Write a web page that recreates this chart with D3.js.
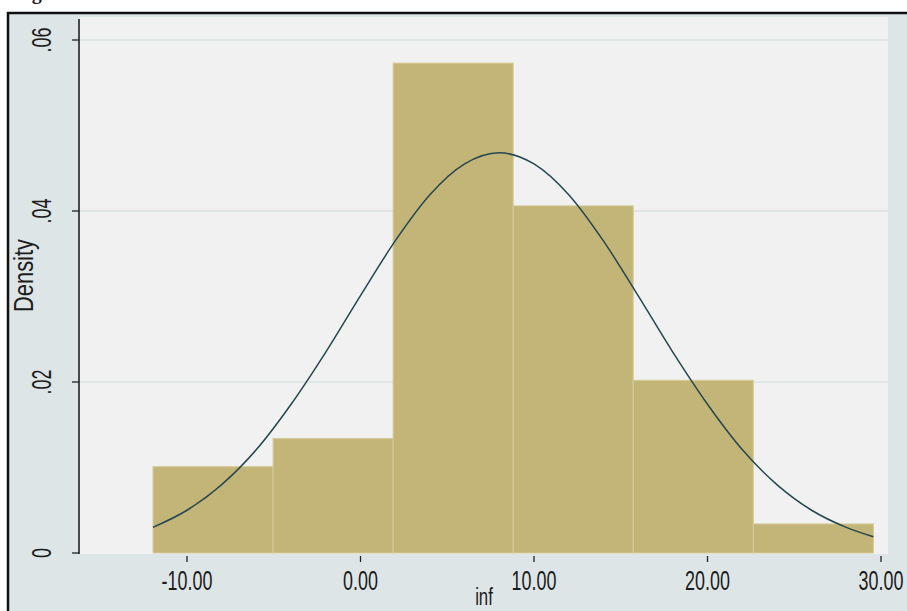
<!DOCTYPE html>
<html>
<head>
<meta charset="utf-8">
<script src="https://cdn.jsdelivr.net/npm/d3@7"></script>
<style>
  html, body { margin: 0; padding: 0; background: #ffffff; }
  svg { display: block; }
  text { font-family: "Liberation Sans", Arial, sans-serif; fill: #1c1c1c; }
</style>
</head>
<body>
<svg id="chart" width="907" height="611"></svg>
<script>
// ---- data ----
const binEdges = [-11.96, -5.04, 1.88, 8.80, 15.72, 22.64, 29.56];
const densities = [0.0101, 0.0134, 0.0573, 0.0406, 0.0202, 0.0034];
// overlaid normal-density curve
const curveX = [-11.96, -10, -8, -6, -4, -2, 0, 2, 4, 6, 8, 10, 12, 14, 16, 18, 20, 22, 24, 26, 28, 29.56];
const curveY = [0.0030, 0.0050, 0.0080, 0.0121, 0.0174, 0.0235, 0.0301, 0.0365, 0.0419, 0.0455, 0.0468,
                0.0455, 0.0419, 0.0365, 0.0301, 0.0235, 0.0174, 0.0121, 0.0080, 0.0050, 0.0030, 0.0019];
const xTicks = [-10, 0, 10, 20, 30];
const xTickLabels = ["-10.00", "0.00", "10.00", "20.00", "30.00"];
const yTicks = [0, 0.02, 0.04, 0.06];
const yTickLabels = ["0", ".02", ".04", ".06"];
const xTitle = "inf";
const yTitle = "Density";
const captionText = "Figure";

// ---- layout ----
const svg = d3.select("#chart");
const plot = { left: 80, right: 888, top: 17, bottom: 554 };
const x = d3.scaleLinear().domain([-10, 30]).range([187, 881]);
const y = d3.scaleLinear().domain([0, 0.06]).range([553, 40]);

// caption (cut off at the top of the picture, as in the reference: only the "g" descender shows)
svg.append("text").attr("x", 14).attr("y", -1)
  .style("font-family", "'Liberation Serif', serif").style("font-weight", "bold")
  .style("font-size", "20px").text(captionText);

// outer graph region with black frame
svg.append("rect").attr("x", 8).attr("y", 13).attr("width", 910).attr("height", 610)
  .attr("fill", "#dee5e6").attr("stroke", "#111").attr("stroke-width", 2.5);

// plot region
svg.append("rect").attr("x", plot.left).attr("y", plot.top)
  .attr("width", plot.right - plot.left).attr("height", plot.bottom - plot.top)
  .attr("fill", "#f0f1f0");

// gridlines
svg.append("g").selectAll("line").data(yTicks.filter(d => d > 0)).join("line")
  .attr("x1", plot.left).attr("x2", plot.right)
  .attr("y1", d => y(d)).attr("y2", d => y(d))
  .attr("stroke", "#dbe2e3").attr("stroke-width", 1.5);

// bars
const bars = densities.map((d, i) => ({ x0: binEdges[i], x1: binEdges[i + 1], d }));
svg.append("g").selectAll("rect").data(bars).join("rect")
  .attr("x", b => x(b.x0)).attr("width", b => x(b.x1) - x(b.x0))
  .attr("y", b => y(b.d)).attr("height", b => y(0) - y(b.d))
  .attr("fill", "#c3b478").attr("stroke", "#d6cb9a").attr("stroke-width", 1);

// normal curve
const pts = curveX.map((v, i) => [v, curveY[i]]);
svg.append("path").datum(pts)
  .attr("d", d3.line().x(p => x(p[0])).y(p => y(p[1])).curve(d3.curveMonotoneX))
  .attr("fill", "none").attr("stroke", "#24474f").attr("stroke-width", 1.5);

// y axis line and ticks
svg.append("line").attr("x1", 79).attr("x2", 79).attr("y1", plot.top + 2).attr("y2", plot.bottom)
  .attr("stroke", "#222").attr("stroke-width", 1.6);
svg.append("g").selectAll("line").data(yTicks).join("line")
  .attr("x1", 72).attr("x2", 79).attr("y1", d => y(d)).attr("y2", d => y(d))
  .attr("stroke", "#222").attr("stroke-width", 1.3);
svg.append("g").selectAll("text").data(yTicks).join("text")
  .attr("transform", d => `translate(51,${y(d)}) rotate(-90) scale(0.64,1)`)
  .attr("text-anchor", "middle").style("font-size", "28px")
  .text((d, i) => yTickLabels[i]);

// y title
svg.append("text").attr("transform", `translate(33,${(plot.top + plot.bottom) / 2 - 10}) rotate(-90) scale(0.78,1)`)
  .attr("text-anchor", "middle").style("font-size", "28px").text(yTitle);

// x ticks and labels
svg.append("g").selectAll("line").data(xTicks).join("line")
  .attr("x1", d => x(d)).attr("x2", d => x(d)).attr("y1", 556).attr("y2", 562)
  .attr("stroke", "#222").attr("stroke-width", 1.3);
svg.append("g").selectAll("text").data(xTicks).join("text")
  .attr("transform", d => `translate(${x(d)},590) scale(0.64,1)`)
  .attr("text-anchor", "middle").style("font-size", "28px")
  .text((d, i) => xTickLabels[i]);

// x title
svg.append("text").attr("transform", `translate(${(plot.left + plot.right) / 2},605) scale(0.7,1)`)
  .attr("text-anchor", "middle").style("font-size", "24px").text(xTitle);
</script>
</body>
</html>
